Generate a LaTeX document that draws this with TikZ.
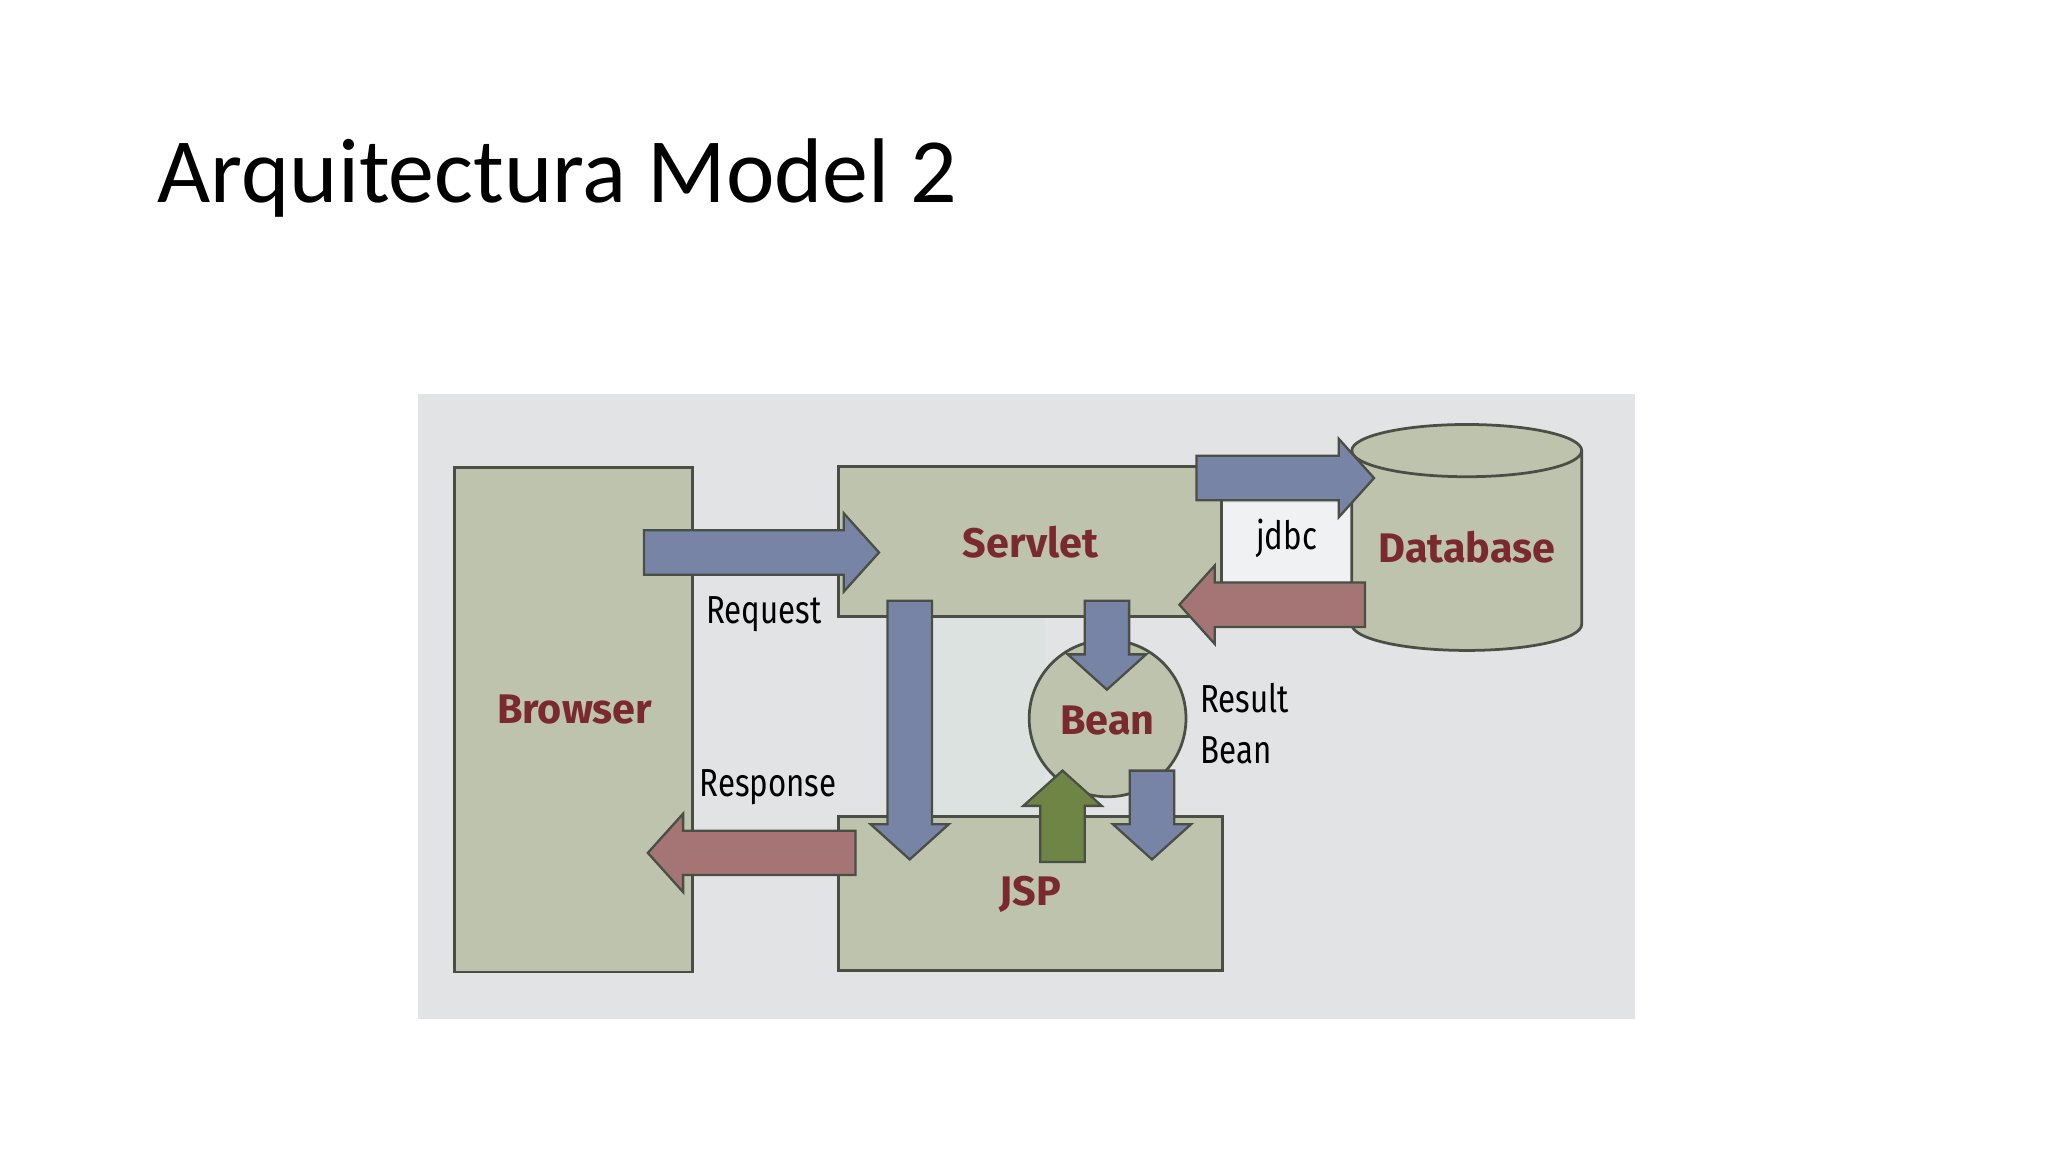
\documentclass[tikz,border=0pt]{standalone}
\usepackage{fontspec}
\setmainfont{Carlito}
\newfontfamily\lbl{Fira Sans}
\definecolor{panel}{HTML}{E2E3E5}
\definecolor{boxg}{HTML}{BDC3AD}
\definecolor{edge}{HTML}{4A4F45}
\definecolor{blu}{HTML}{7884A6}
\definecolor{redd}{HTML}{A57474}
\definecolor{grn}{HTML}{6E8546}
\definecolor{lab}{HTML}{7A2A2E}
\definecolor{inner}{HTML}{DCE2E0}
\newcommand\myarrow[5]{% x y angle length colour
  \draw[draw=edge,line width=0.5pt,fill=#5,shift={(#1,#2)},rotate=#3]
   (0,-17)--(#4-27,-17)--(#4-27,-30)--(#4,0)--(#4-27,30)--(#4-27,17)--(0,17)--cycle;}
\begin{document}
\begin{tikzpicture}[x=0.01cm,y=-0.01cm,
  box/.style={draw=edge,fill=boxg,line width=0.6pt},
  big/.style={font=\lbl\bfseries\fontsize{9}{9}\selectfont,text=lab},
  small/.style={font=\lbl\fontsize{8.5}{11}\selectfont,xscale=0.8,align=left}]
\useasboundingbox (0,0) rectangle (1568,882);
\node[anchor=base west,font=\fontsize{20}{20}\selectfont,inner sep=0] (title) at (120,155) {Arquitectura Model 2};
\fill[panel] (320,302) rectangle (1252,780);
\fill[inner] (700,472) rectangle (800,625);
\fill[white!50!panel] (935,385) rectangle (1035,445);
\node[box,minimum width=1.82cm,minimum height=3.86cm] (browser) at (439,551) {};
\node[box,minimum width=2.93cm,minimum height=1.15cm] (servlet) at (788.5,414.5) {};
\node[box,minimum width=2.94cm,minimum height=1.18cm] (jsp) at (789,684) {};
\draw[box] (1035,345) -- (1035,478) arc[start angle=180,end angle=360,x radius=88,y radius=-20] -- (1211,345);
\draw[box] (1123,345) ellipse[x radius=88,y radius=20];
\node[circle,draw=edge,fill=boxg,line width=0.6pt,minimum size=1.2cm] (bean) at (848,550) {};
% arrows
\myarrow{493}{423}{0}{180}{blu}
\myarrow{916}{366}{0}{136}{blu}
\myarrow{1045}{463}{180}{142}{redd}
\myarrow{696.5}{460}{-90}{198}{blu}
\myarrow{847.5}{460}{-90}{68}{blu}
\myarrow{882}{590}{-90}{68}{blu}
\myarrow{813.5}{660}{90}{70}{grn}
\myarrow{655}{653}{180}{159}{redd}
% labels
\node[big] (tb) at (440,543) {Browser};
\node[big] (ts) at (789,415) {Servlet};
\node[big] (td) at (1123,419) {Database};
\node[big] (tbe) at (848,552) {Bean};
\node[big] (tj) at (789,685) {JSP};
\node[small] (req) at (585,470) {Request};
\node[small] (res) at (588,603) {Response};
\node[small] (jd) at (985,412) {jdbc};
\node[small,align=left] (rb) at (953,554) {Result\\Bean};
\end{tikzpicture}
\end{document}
